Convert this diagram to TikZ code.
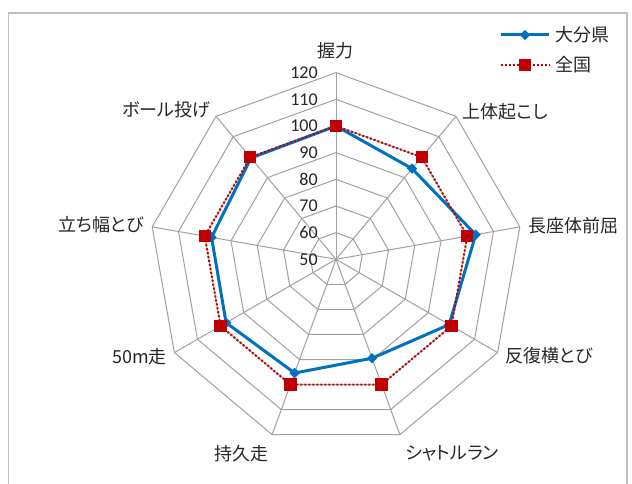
\documentclass[tikz,border=0pt]{standalone}
\usepackage{fontspec}
\setmainfont{Carlito}
\newfontfamily\jpfont[RawFeature={+palt}]{Noto Sans CJK JP}
\usepackage{tikz}
\usepackage{xcolor}
\usetikzlibrary{positioning, shapes.geometric}
\definecolor{oitablue}{RGB}{0, 112, 192}
\definecolor{zenred}{RGB}{192, 0, 0}
\definecolor{gridgray}{RGB}{160, 160, 160}
\definecolor{framegray}{RGB}{191, 191, 191}
\definecolor{labelblack}{RGB}{38, 38, 38}
\tikzset{
    gridline/.style={draw=gridgray, line width=0.75pt},
    axislabel/.style={font=\jpfont\fontsize{13.5}{16}\selectfont, text=labelblack, inner sep=0pt},
    ticklabel/.style={font=\fontsize{13.5}{16}\selectfont, text=labelblack, inner sep=0pt, anchor=east},
    oitaline/.style={draw=oitablue, line width=2.25pt, line join=round},
    zenline/.style={draw=zenred, line width=1.5pt, dash pattern=on 1.5pt off 1.5pt},
    oitamark/.style={diamond, fill=oitablue, inner sep=0pt, minimum size=8pt},
    zenmark/.style={rectangle, fill=zenred, inner sep=0pt, minimum size=9.25pt}
}

\begin{document}
\begin{tikzpicture}[x=0.75pt, y=0.75pt]
    \useasboundingbox (0,0) rectangle (632,484);
    % chart frame
    \draw[framegray, line width=1.1pt] (8.5,-10) -- (8.5,471) -- (627,471) -- (627,-10);

    \begin{scope}[shift={(336,224.7)}]
        \coordinate (c) at (0,0);
        % rings 60..120
        \foreach \lv in {1,...,7} {
            \draw[gridline] (90:\lv*26.66) \foreach \k in {1,...,8} { -- ({90-40*\k}:\lv*26.66) } -- cycle;
        }
        % spokes
        \foreach \k in {0,...,8} {
            \coordinate (v\k) at ({90-40*\k}:186.6);
            \draw[gridline] (c) -- (v\k);
        }
        % scale
        \foreach \val [count=\i from 0] in {50,60,...,120}
            \node[ticklabel] (t\val) at (-18,\i*26.66) {\val};
        % data points
        \foreach \val [count=\k from 0] in {100,94.4,103.2,99,89.5,95.4,97.6,97.4,99.6}
            \coordinate (o\k) at ({90-40*\k}:{(\val-50)*2.666});
        \foreach \k in {0,...,8}
            \coordinate (z\k) at ({90-40*\k}:133.3);
    \end{scope}

    % 大分県
    \draw[oitaline] (o0) \foreach \k in {1,...,8} { -- (o\k) } -- cycle;
    \foreach \k in {0,...,8}
        \node[oitamark] (om\k) at (o\k) {};
    % 全国
    \draw[zenline] (z0) \foreach \k in {1,...,8} { -- (z\k) } -- cycle;
    \foreach \k in {0,...,8}
        \node[zenmark] (zm\k) at (z\k) {};

    % axis labels
    \node[axislabel] (grip) at (335.3,433.3) {握力};
    \node[axislabel, anchor=west] (situp) at (462.7,372.3) {上体起こし};
    \node[axislabel, anchor=west] (reach) at (528.7,258.3) {長座体前屈};
    \node[axislabel, anchor=west] (sidestep) at (505,128) {反復横とび};
    \node[axislabel, anchor=west] (shuttle) at (405,30.3) {シャトルラン};
    \node[axislabel, anchor=east] (endurance) at (269,30.3) {持久走};
    \node[axislabel, anchor=east] (dash50) at (167,127.3) {50m走};
    \node[axislabel, anchor=east] (jump) at (144,259) {立ち幅とび};
    \node[axislabel, anchor=east] (throw) at (210.7,374) {ボール投げ};

    % legend
    \coordinate (la1) at (500.7,449);
    \coordinate (lb1) at (549.3,449);
    \coordinate (la2) at (500.7,419);
    \coordinate (lb2) at (549.3,419);
    \draw[oitaline] (la1) -- (lb1);
    \node[oitamark] (lm1) at (525,449) {};
    \node[axislabel, anchor=west] (lt1) at (555,449) {大分県};
    \draw[zenline] (la2) -- (lb2);
    \node[zenmark] (lm2) at (525,419) {};
    \node[axislabel, anchor=west] (lt2) at (555,419) {全国};
\end{tikzpicture}
\end{document}
